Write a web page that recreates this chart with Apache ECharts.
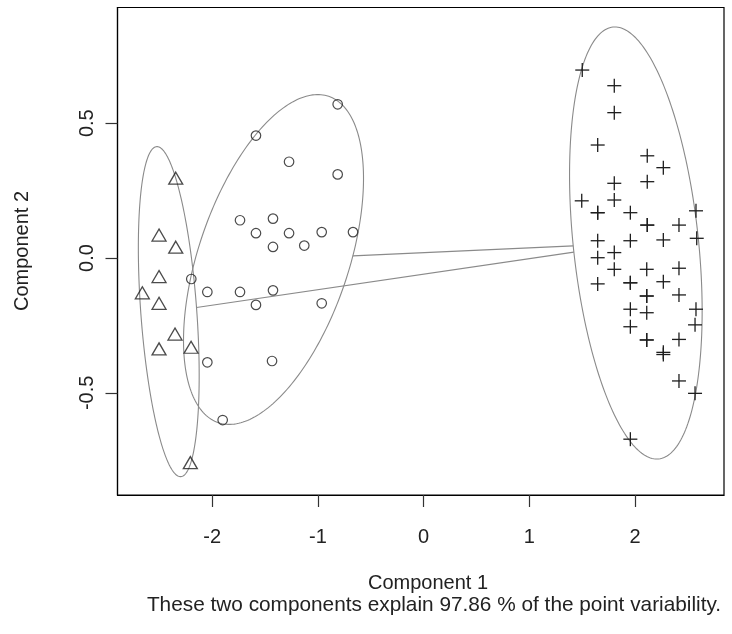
<!DOCTYPE html>
<html>
<head>
<meta charset="utf-8">
<script src="https://cdn.jsdelivr.net/npm/echarts@6/dist/echarts.min.js"></script>
<style>
html,body{margin:0;padding:0;background:#fff;}
#chart{width:732px;height:634px;}
</style>
</head>
<body>
<div id="chart"></div>
<script>
// ---- data ----
const xTicks = [-2, -1, 0, 1, 2];
const yTicks = [-0.5, 0, 0.5];
const xTitle = 'Component 1';
const yTitle = 'Component 2';
const subTitle = 'These two components explain 97.86 % of the point variability.';

// cluster 1 (triangles)
const triX = [-2.345, -2.503, -2.345, -2.503, -2.661, -2.503, -2.352, -2.503, -2.200, -2.207];
const triY = [0.296, 0.085, 0.040, -0.069, -0.129, -0.168, -0.282, -0.337, -0.331, -0.759];

// cluster 2 (circles)
const circX = [-0.813, -1.586, -1.273, -0.813, -1.737, -1.425, -1.586, -1.273, -0.964, -0.668, -1.425,
               -1.129, -2.198, -2.046, -1.737, -1.425, -1.586, -0.964, -2.046, -1.434, -1.901];
const circY = [0.570, 0.454, 0.357, 0.310, 0.140, 0.146, 0.092, 0.092, 0.096, 0.096, 0.041,
               0.046, -0.078, -0.126, -0.126, -0.120, -0.174, -0.168, -0.387, -0.382, -0.601];

// cluster 3 (crosses)
const crossX = [1.501, 1.804, 1.804, 1.647, 2.116, 2.268, 1.804, 2.116, 1.496, 1.804,
                1.647, 1.647, 1.956, 2.577, 2.116, 2.116, 2.416, 1.647, 1.956, 2.268,
                2.584, 1.647, 1.804, 1.804, 2.111, 2.416, 1.647, 1.956, 1.956, 2.268,
                2.111, 2.111, 2.416, 1.956, 1.956, 2.111, 2.577, 2.568, 2.111, 2.111,
                2.416, 2.268, 2.268, 2.416, 2.568, 1.956];
const crossY = [0.697, 0.639, 0.539, 0.419, 0.379, 0.335, 0.277, 0.283, 0.212, 0.215,
                0.168, 0.168, 0.168, 0.175, 0.122, 0.122, 0.122, 0.064, 0.064, 0.067,
                0.073, 0.001, 0.020, -0.042, -0.042, -0.038, -0.096, -0.092, -0.092, -0.088,
                -0.141, -0.141, -0.137, -0.190, -0.255, -0.203, -0.190, -0.248, -0.304, -0.304,
                -0.302, -0.350, -0.358, -0.456, -0.502, -0.672];

// spanning ellipses: centre and two conjugate half-axis vectors (data units)
const ellCx = [-2.411, -1.420, 2.008];
const ellCy = [-0.199, -0.0056, 0.0556];
const ellUx = [-0.1145, 0.5218, 0.216];
const ellUy = [0.612, 0.6051, -0.8009];
const ellVx = [0.264, 0.6729, 0.5889];
const ellVy = [0.0076, -0.0891, 0.0244];

// ---- segments between ellipses (along the line of centres, clipped by the ellipses) ----
function ellScale(i, dx, dy) {
  const det = ellUx[i] * ellVy[i] - ellVx[i] * ellUy[i];
  const a = (dx * ellVy[i] - ellVx[i] * dy) / det;
  const b = (ellUx[i] * dy - ellUy[i] * dx) / det;
  return Math.sqrt(a * a + b * b);
}
const segData = [];
for (let i = 0; i < ellCx.length; i++) {
  for (let j = i + 1; j < ellCx.length; j++) {
    const dx = ellCx[j] - ellCx[i], dy = ellCy[j] - ellCy[i];
    const s0 = 1 / ellScale(i, dx, dy);
    const s1 = 1 - 1 / ellScale(j, dx, dy);
    if (s0 < s1) {
      segData.push([ellCx[i] + s0 * dx, ellCy[i] + s0 * dy, ellCx[i] + s1 * dx, ellCy[i] + s1 * dy]);
    }
  }
}

const FONT = '"Liberation Sans", Arial, sans-serif';
const FS = 20;
const TXT = '#222';
const chart = echarts.init(document.getElementById('chart'), null, {renderer: 'canvas'});

const option = {
  backgroundColor: '#fff',
  animation: false,
  grid: {left: 117.5, top: 7.5, right: 8, bottom: 139, show: true, borderColor: '#000', borderWidth: 1.2, containLabel: false},
  xAxis: {
    type: 'value', min: -2.896, max: 2.842,
    splitLine: {show: false},
    axisLine: {show: true, onZero: false, lineStyle: {color: '#000', width: 1.2}},
    axisTick: {show: true, length: 12, customValues: xTicks, lineStyle: {color: '#333', width: 1.2}},
    axisLabel: {customValues: xTicks, margin: 32, fontSize: FS, color: TXT, fontFamily: FONT,
                formatter: v => String(v)}
  },
  yAxis: {
    type: 'value', min: -0.879, max: 0.929,
    splitLine: {show: false},
    axisLine: {show: true, onZero: false, lineStyle: {color: '#000', width: 1.2}},
    axisTick: {show: true, length: 12, customValues: yTicks, lineStyle: {color: '#333', width: 1.2}},
    axisLabel: {customValues: yTicks, rotate: 90, margin: 20, fontSize: FS, color: TXT, fontFamily: FONT,
                formatter: v => v.toFixed(1)}
  },
  graphic: [
    {type: 'text', x: 428, y: 583, style: {text: xTitle, font: FS + 'px ' + FONT, fill: TXT, align: 'center', verticalAlign: 'middle'}},
    {type: 'text', x: 434, y: 605, style: {text: subTitle, font: '20.8px ' + FONT, fill: TXT, align: 'center', verticalAlign: 'middle'}},
    {type: 'text', x: 22, y: 251, rotation: Math.PI / 2, style: {text: yTitle, font: FS + 'px ' + FONT, fill: TXT, align: 'center', verticalAlign: 'middle'}}
  ],
  series: [
    {
      type: 'custom', name: 'ellipses',
      data: ellCx.map((c, i) => [ellCx[i], ellCy[i]]),
      renderItem: function (params, api) {
        const i = params.dataIndex;
        const pts = [];
        const N = 240;
        for (let k = 0; k <= N; k++) {
          const t = 2 * Math.PI * k / N;
          const x = ellCx[i] + ellUx[i] * Math.cos(t) + ellVx[i] * Math.sin(t);
          const y = ellCy[i] + ellUy[i] * Math.cos(t) + ellVy[i] * Math.sin(t);
          pts.push(api.coord([x, y]));
        }
        return {type: 'polyline', shape: {points: pts}, style: {stroke: '#8a8a8a', fill: null, lineWidth: 1.1}};
      },
      z: 1
    },
    {
      type: 'custom', name: 'links',
      data: segData,
      encode: {x: [0, 2], y: [1, 3]},
      renderItem: function (params, api) {
        const p0 = api.coord([api.value(0), api.value(1)]);
        const p1 = api.coord([api.value(2), api.value(3)]);
        return {type: 'line', shape: {x1: p0[0], y1: p0[1], x2: p1[0], y2: p1[1]}, style: {stroke: '#8a8a8a', lineWidth: 1.1}};
      },
      z: 1
    },
    {
      type: 'scatter', name: 'cluster 1',
      data: triX.map((x, i) => [x, triY[i]]),
      symbol: 'triangle', symbolSize: [14, 12],
      itemStyle: {color: 'rgba(0,0,0,0)', borderColor: '#1e1e1e', borderWidth: 1.3},
      z: 3
    },
    {
      type: 'scatter', name: 'cluster 2',
      data: circX.map((x, i) => [x, circY[i]]),
      symbol: 'circle', symbolSize: 9.5,
      itemStyle: {color: 'rgba(0,0,0,0)', borderColor: '#1e1e1e', borderWidth: 1.2},
      z: 3
    },
    {
      type: 'custom', name: 'cluster 3',
      data: crossX.map((x, i) => [x, crossY[i]]),
      renderItem: function (params, api) {
        const p = api.coord([api.value(0), api.value(1)]);
        const h = 7;
        return {
          type: 'group',
          children: [
            {type: 'line', shape: {x1: p[0] - h, y1: p[1], x2: p[0] + h, y2: p[1]}, style: {stroke: '#1e1e1e', lineWidth: 1.3}},
            {type: 'line', shape: {x1: p[0], y1: p[1] - h, x2: p[0], y2: p[1] + h}, style: {stroke: '#1e1e1e', lineWidth: 1.3}}
          ]
        };
      },
      z: 3
    }
  ]
};
chart.setOption(option);
</script>
</body>
</html>
